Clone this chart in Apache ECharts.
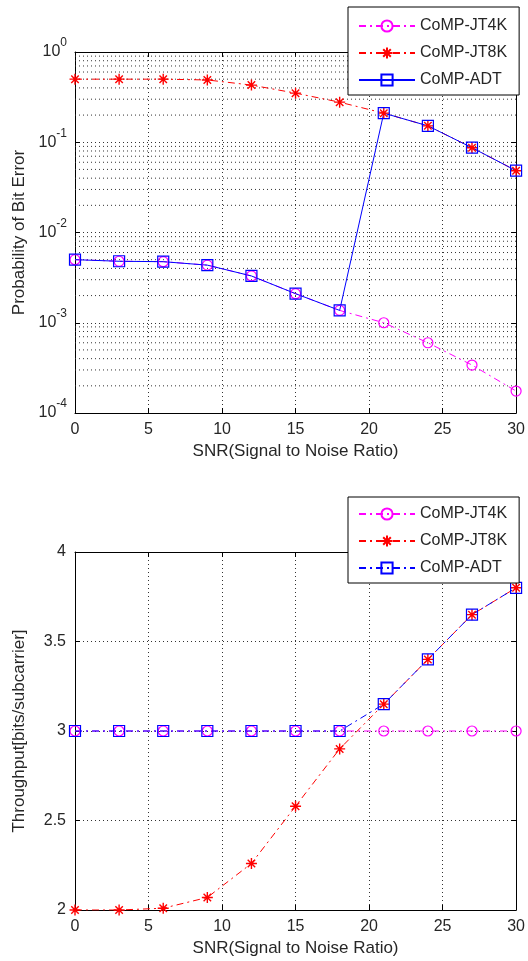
<!DOCTYPE html>
<html>
<head>
<meta charset="utf-8">
<script src="https://cdn.jsdelivr.net/npm/echarts@6/dist/echarts.min.js"></script>
<style>
html,body{margin:0;padding:0;background:#fff;}
#chart{width:528px;height:961px;}
</style>
</head>
<body>
<div id="chart"></div>
<script>
// ---- data ----
var snr = [0, 3, 6, 9, 12, 15, 18, 21, 24, 27, 30];
var seriesNames = ['CoMP-JT4K', 'CoMP-JT8K', 'CoMP-ADT'];

var berJT4K = [5.0e-3, 4.8e-3, 4.75e-3, 4.35e-3, 3.3e-3, 2.1e-3, 1.37e-3, 1.0e-3, 6.0e-4, 3.4e-4, 1.75e-4];
var berJT8K = [0.5, 0.5, 0.5, 0.49, 0.43, 0.35, 0.278, 0.21, 0.152, 0.087, 0.0484];
var berADT  = [5.0e-3, 4.8e-3, 4.75e-3, 4.35e-3, 3.3e-3, 2.1e-3, 1.37e-3, 0.21, 0.152, 0.087, 0.0484];

var thrJT4K = [3, 3, 3, 3, 3, 3, 3, 3, 3, 3, 3];
var thrJT8K = [2.0, 2.0, 2.01, 2.07, 2.26, 2.58, 2.90, 3.15, 3.40, 3.65, 3.80];
var thrADT  = [3, 3, 3, 3, 3, 3, 3, 3.15, 3.40, 3.65, 3.80];

var xTicks = [0, 5, 10, 15, 20, 25, 30];
var berDecades = [1e-4, 1e-3, 1e-2, 1e-1, 1];
var minorMult = [2, 3, 4, 5, 6, 7, 8, 9];
var thrTicks = [2, 2.5, 3, 3.5, 4];

// ---- styling ----
var FONT = 'Liberation Sans, Arial, sans-serif';
var TXT = '#262626';
var DASHDOT = [7, 4, 2, 4];
var GRIDDOT = [1, 3];
var colors = {JT4K: '#ff00ff', JT8K: '#ff0000', ADT: '#0000ff'};
var starPath = 'path://M5,0L5,10M0,5L10,5M1.6,1.6L8.4,8.4M8.4,1.6L1.6,8.4';

function pairs(xs, ys) { return xs.map(function (x, i) { return [x, ys[i]]; }); }

// minor log grid lines (2..9 x each decade), drawn as helper line series through the log scale
var minorValues = [];
berDecades.slice(0, -1).forEach(function (d) {
  minorMult.forEach(function (m) { minorValues.push(d * m); });
});
var minorSeries = minorValues.map(function (v) {
  return {
    type: 'line', xAxisIndex: 0, yAxisIndex: 0, silent: true, z: 1,
    data: [[xTicks[0], v], [xTicks[xTicks.length - 1], v]],
    symbol: 'none', lineStyle: {color: '#333', type: GRIDDOT, width: 1},
    emphasis: {disabled: true}, tooltip: {show: false}
  };
});

function mkSeries(name, data, xi, color, symbol, size, dash, isStar) {
  return {
    name: name, type: 'line', xAxisIndex: xi, yAxisIndex: xi,
    data: data, symbol: symbol, symbolSize: size,
    lineStyle: {color: color, width: 1, type: dash},
    itemStyle: isStar ? {color: color, borderColor: color, borderWidth: 1.4}
                      : {color: 'rgba(0,0,0,0)', borderColor: color, borderWidth: 1.2},
    showAllSymbol: true, z: 5
  };
}

function xAxisCfg(gi, show) {
  return {
    type: 'value', gridIndex: gi, min: 0, max: 30, interval: 5,
    position: show ? 'bottom' : 'top',
    axisLine: {show: true, onZero: false, lineStyle: {color: '#000', width: 1}},
    axisTick: {show: true, inside: true, length: 5, lineStyle: {color: '#000'}},
    axisLabel: {show: show, color: TXT, fontFamily: FONT, fontSize: 16, margin: 9},
    splitLine: {show: show, lineStyle: {color: '#333', type: GRIDDOT, width: 1}},
    name: show ? 'SNR(Signal to Noise Ratio)' : '',
    nameLocation: 'middle', nameGap: 30,
    nameTextStyle: {color: TXT, fontFamily: FONT, fontSize: 17}
  };
}

var option = {
  animation: false,
  backgroundColor: '#fff',
  grid: [
    {left: 75, right: 8, top: 52, height: 361, show: false},
    {left: 75, right: 8, top: 552, height: 358, show: false}
  ],
  xAxis: [xAxisCfg(0, true), xAxisCfg(1, true), xAxisCfg(0, false), xAxisCfg(1, false)],
  yAxis: [
    {
      type: 'log', logBase: 10, gridIndex: 0, min: 1e-4, max: 1, interval: 1,
      axisLine: {show: true, onZero: false, lineStyle: {color: '#000'}},
      axisTick: {show: true, inside: true, length: 5, lineStyle: {color: '#000'}},
      axisLabel: {
        color: TXT, fontFamily: FONT, margin: 8,
        formatter: function (v) { return '{b|10}{s|' + Math.round(Math.log10(v)) + '}'; },
        rich: {
          b: {fontSize: 16, lineHeight: 30, fontFamily: FONT, color: TXT},
          s: {fontSize: 12, lineHeight: 12, verticalAlign: 'top', fontFamily: FONT, color: TXT}
        }
      },
      splitLine: {show: true, lineStyle: {color: '#333', type: GRIDDOT}},
      name: 'Probability of Bit Error', nameLocation: 'middle', nameGap: 47,
      nameTextStyle: {color: TXT, fontFamily: FONT, fontSize: 17}
    },
    {
      type: 'value', gridIndex: 1, min: 2, max: 4, interval: 0.5,
      axisLine: {show: true, onZero: false, lineStyle: {color: '#000'}},
      axisTick: {show: true, inside: true, length: 5, lineStyle: {color: '#000'}},
      axisLabel: {color: TXT, fontFamily: FONT, fontSize: 16, margin: 9},
      splitLine: {show: true, lineStyle: {color: '#333', type: GRIDDOT}},
      name: 'Throughput[bits/subcarrier]', nameLocation: 'middle', nameGap: 47,
      nameTextStyle: {color: TXT, fontFamily: FONT, fontSize: 17}
    },
    {
      type: 'log', logBase: 10, gridIndex: 0, min: 1e-4, max: 1, interval: 1, position: 'right',
      axisLine: {show: true, onZero: false, lineStyle: {color: '#000'}},
      axisTick: {show: true, inside: true, length: 5, lineStyle: {color: '#000'}},
      axisLabel: {show: false}, splitLine: {show: false}
    },
    {
      type: 'value', gridIndex: 1, min: 2, max: 4, interval: 0.5, position: 'right',
      axisLine: {show: true, onZero: false, lineStyle: {color: '#000'}},
      axisTick: {show: true, inside: true, length: 5, lineStyle: {color: '#000'}},
      axisLabel: {show: false}, splitLine: {show: false}
    }
  ],
  legend: [
    {
      left: 348, top: 7, orient: 'vertical', itemWidth: 56, itemHeight: 14, itemGap: 11,
      padding: [11, 12, 7, 10], backgroundColor: '#fff', borderColor: '#000', borderWidth: 1,
      textStyle: {color: TXT, fontFamily: FONT, fontSize: 16},
      selectedMode: false, z: 20,
      data: [
        {name: seriesNames[0]},
        {name: seriesNames[1]},
        {name: seriesNames[2], lineStyle: {type: 'solid'}}
      ]
    },
    {
      left: 348, top: 497, orient: 'vertical', itemWidth: 56, itemHeight: 14, itemGap: 11,
      padding: [9, 12, 7, 10], backgroundColor: '#fff', borderColor: '#000', borderWidth: 1,
      textStyle: {color: TXT, fontFamily: FONT, fontSize: 16},
      selectedMode: false, z: 20,
      data: [
        {name: seriesNames[0]},
        {name: seriesNames[1]},
        {name: seriesNames[2], lineStyle: {type: DASHDOT}}
      ]
    }
  ],
  series: minorSeries.concat([
    mkSeries(seriesNames[0], pairs(snr, berJT4K), 0, colors.JT4K, 'circle', 10, DASHDOT, false),
    mkSeries(seriesNames[1], pairs(snr, berJT8K), 0, colors.JT8K, starPath, 11, DASHDOT, true),
    mkSeries(seriesNames[2], pairs(snr, berADT), 0, colors.ADT, 'rect', 11, 'solid', false),
    mkSeries(seriesNames[0], pairs(snr, thrJT4K), 1, colors.JT4K, 'circle', 10, DASHDOT, false),
    mkSeries(seriesNames[1], pairs(snr, thrJT8K), 1, colors.JT8K, starPath, 11, DASHDOT, true),
    mkSeries(seriesNames[2], pairs(snr, thrADT), 1, colors.ADT, 'rect', 11, DASHDOT, false)
  ])
};

var chart = echarts.init(document.getElementById('chart'), null, {renderer: 'canvas'});
chart.setOption(option);
</script>
</body>
</html>
